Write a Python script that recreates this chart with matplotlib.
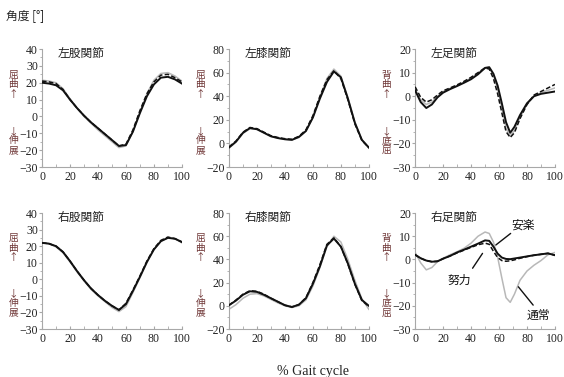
import matplotlib
matplotlib.use("Agg")
import matplotlib.pyplot as plt
from matplotlib.ticker import MultipleLocator

plt.rcParams['font.family'] = ['Noto Sans CJK JP', 'DejaVu Sans']

# % gait cycle
gait = [0, 5, 10, 15, 20, 25, 30, 35, 40, 45, 50, 55, 60, 65, 70, 75, 80, 85, 90, 95, 100]
gait_ankle = [0, 4, 8, 12, 16, 20, 25, 30, 35, 40, 45, 50, 53, 56, 59, 62, 65, 68, 71, 75, 80, 85, 90, 95, 100]

# 左股関節
lhip_normal = [21.5, 21, 20, 16.5, 10.5, 5, 0, -4, -8, -11.5, -15, -18.5, -17.5, -9, 2.5, 13.5, 21.5, 25.5, 26, 24, 21]
lhip_easy = [20, 19.5, 18.5, 15.5, 10, 5, 0.5, -3.5, -7, -10.5, -14, -17.5, -17, -9, 2, 12, 19, 23, 23.5, 22, 19.5]
lhip_effort = [21, 20.5, 19.5, 16, 10, 5, 0.5, -3.5, -7, -10.5, -14, -17.5, -16.5, -8, 3.5, 13.5, 20.5, 24.5, 25, 23, 20.5]

# 左膝関節
lknee_normal = [-4, 1, 8.5, 12.5, 12, 9, 6, 4.5, 3.5, 3, 5, 10.5, 22, 39.5, 55, 63, 57, 39, 18, 3, -4]
lknee_easy = [-3.5, 1.5, 9, 13, 12, 9, 6, 4.5, 3.5, 3, 5.5, 10.5, 22, 38, 52, 61, 56, 38, 17.5, 3, -3.5]
lknee_effort = [-3, 2, 9.5, 13.5, 12.5, 9.5, 6.5, 5, 4, 3.5, 6, 11.5, 23.5, 40, 54, 61.5, 55, 37, 16.5, 2.5, -3.5]

# 左足関節
lankle_normal = [3, -1.5, -3.5, -2.5, 0, 2, 3.3, 4.5, 6, 7.8, 9.8, 12, 12, 9, 3, -5, -13.5, -17, -14.5, -9, -3.5, 0, 1.5, 2.5, 3.5]
lankle_easy = [2.5, -2.5, -5, -3.5, -0.5, 1.5, 3, 4.3, 5.7, 7.2, 9.3, 12, 12.3, 9.5, 4.5, -3, -11, -15.5, -13, -8, -3, 0, 1, 1.5, 2]
lankle_effort = [4, -0.5, -2.5, -1.5, 0.5, 2.3, 3.5, 4.8, 6.3, 8, 10, 12, 11.5, 7.5, 1, -7, -15, -17.5, -15.5, -9.5, -3.5, 0.5, 2, 3.5, 5]

# 右股関節
rhip_normal = [22, 21.5, 19.5, 16, 10.5, 4.5, -1, -6, -10, -13.5, -17, -19.5, -16.5, -8, 1, 10, 18, 23, 25, 24.5, 22]
rhip_easy = [22, 21.5, 20, 16.5, 11, 5, -0.5, -5.5, -9.5, -13, -16, -18.5, -15, -7, 1.5, 10.5, 18, 23, 25, 24.5, 22.5]
rhip_effort = [22, 21.5, 20, 16.5, 11, 5, -0.5, -5.5, -9.5, -13, -16, -18.5, -14.5, -6.5, 2, 11, 18.5, 23.5, 25.5, 24.5, 22.5]

# 右膝関節
rknee_normal = [-3, 1, 6.5, 10, 10.5, 8.5, 5.5, 2.5, 0, -1.5, 0, 5, 17, 33, 51, 60, 55, 40, 22, 6, -3]
rknee_easy = [0.5, 4.5, 9.5, 12.5, 12, 9.5, 6.5, 3.5, 0.5, -1, 1, 6.5, 19, 34, 52, 58, 51, 36.5, 19, 5, 0]
rknee_effort = [0.5, 5, 10, 13, 12.5, 10, 6.5, 3.5, 0.5, -1, 1, 7, 20, 35.5, 53, 58.5, 51, 36, 18.5, 4.5, -0.5]

# 右足関節
rankle_normal = [3, -1.5, -4.5, -3.5, -1, 0.5, 2, 3.3, 4.8, 7, 10, 11.8, 11.2, 7.5, 1, -8, -16.5, -18.5, -15, -9, -5, -2.5, -0.5, 2, 3]
rankle_easy = [2, 0.5, -0.5, -1, -0.8, 0.3, 1.5, 3, 4.2, 5.5, 6.8, 8.2, 8, 5.5, 2.5, 0.8, 0.2, 0.1, 0.4, 0.8, 1.3, 1.8, 2.2, 2.6, 1.8]
rankle_effort = [2, 0.5, -0.5, -1, -0.8, 0.3, 1.5, 2.8, 4, 5.2, 6.3, 7, 6.5, 3.5, 0.8, -0.5, -0.8, -0.6, -0.2, 0.5, 1.2, 1.8, 2.2, 2.6, 1.8]

panels = [
    ("左股関節", gait, lhip_normal, lhip_easy, lhip_effort, (-30, 40), ("屈\n曲\n↑", "↓\n伸\n展")),
    ("左膝関節", gait, lknee_normal, lknee_easy, lknee_effort, (-20, 80), ("屈\n曲\n↑", "↓\n伸\n展")),
    ("左足関節", gait_ankle, lankle_normal, lankle_easy, lankle_effort, (-30, 20), ("背\n曲\n↑", "↓\n底\n屈")),
    ("右股関節", gait, rhip_normal, rhip_easy, rhip_effort, (-30, 40), ("屈\n曲\n↑", "↓\n伸\n展")),
    ("右膝関節", gait, rknee_normal, rknee_easy, rknee_effort, (-20, 80), ("屈\n曲\n↑", "↓\n伸\n展")),
    ("右足関節", gait_ankle, rankle_normal, rankle_easy, rankle_effort, (-30, 20), ("背\n曲\n↑", "↓\n底\n屈")),
]

fig = plt.figure(figsize=(5.64, 3.77), dpi=100)

lefts = [0.0745, 0.406, 0.736]
rows = [(0.557, 0.313), (0.1273, 0.3077)]
serif = 'Liberation Serif'
lab_color = '#6e3535'
axes = []

for i, (title, xs, normal, easy, effort, ylim, ylab) in enumerate(panels):
    b, h = rows[i // 3]
    ax = fig.add_axes([lefts[i % 3], b, 0.248, h])
    ax.plot(xs, normal, color='#b8b8b8', lw=1.1, zorder=2)
    ax.plot(xs, easy, color='#111111', lw=1.4, zorder=3)
    ax.plot(xs, effort, color='#111111', lw=1.1, ls=(0, (3, 1.5)), zorder=4)

    ax.set_xlim(0, 100)
    ax.set_ylim(*ylim)
    ax.xaxis.set_major_locator(MultipleLocator(20))
    ax.xaxis.set_minor_locator(MultipleLocator(10))
    ax.yaxis.set_major_locator(MultipleLocator(10 if ylim[1] != 80 else 20))
    ax.yaxis.set_minor_locator(MultipleLocator(5 if ylim[1] != 80 else 10))
    for s in ['top', 'right']:
        ax.spines[s].set_visible(False)
    for s in ['left', 'bottom']:
        ax.spines[s].set_color('#a8a8a8')
        ax.spines[s].set_linewidth(0.8)
    ax.tick_params(axis='x', which='both', direction='in', length=2.5, color='#a8a8a8', pad=3)
    ax.tick_params(axis='y', which='major', direction='out', length=2, color='#a8a8a8', pad=1)
    ax.tick_params(axis='y', which='minor', direction='out', length=1.2, color='#a8a8a8')
    for t in ax.get_xticklabels() + ax.get_yticklabels():
        t.set_fontfamily(serif)
        t.set_fontsize(8.5)
        t.set_color('#222222')

    ax.text(0.11, 0.965, title, transform=ax.transAxes, fontsize=8.5, va='center', ha='left', color='#222222')
    ax.text(-0.205, 0.70, ylab[0], transform=ax.transAxes, fontsize=7, va='center', ha='center',
            color=lab_color, linespacing=0.95)
    ax.text(-0.205, 0.225, ylab[1], transform=ax.transAxes, fontsize=7, va='center', ha='center',
            color=lab_color, linespacing=0.95)
    axes.append(ax)

# 右足関節の注釈
ax = axes[5]
arrow = dict(arrowstyle='-', color='#111111', lw=1.0, shrinkA=0, shrinkB=0)
ax.annotate("", xy=(57.7, 6.2), xytext=(68.3, 11.2), arrowprops=arrow)
ax.text(77, 14.8, "安楽", fontsize=8.5, ha='center', va='center', color='#111111')
ax.annotate("", xy=(48.2, 2.6), xytext=(41.1, -3.8), arrowprops=arrow)
ax.text(31.7, -9.1, "努力", fontsize=8.5, ha='center', va='center', color='#111111')
ax.annotate("", xy=(73.8, -11.8), xytext=(84.4, -19.7), arrowprops=arrow)
ax.text(88, -24.0, "通常", fontsize=8.5, ha='center', va='center', color='#111111')

fig.text(0.01, 0.96, "角度 [°]", fontsize=8.5, ha='left', va='center', color='#222222')
fig.text(0.555, 0.015, "% Gait cycle", fontfamily=serif, fontsize=10, ha='center', va='center', color='#222222')

fig.savefig("out.png", dpi=100)
